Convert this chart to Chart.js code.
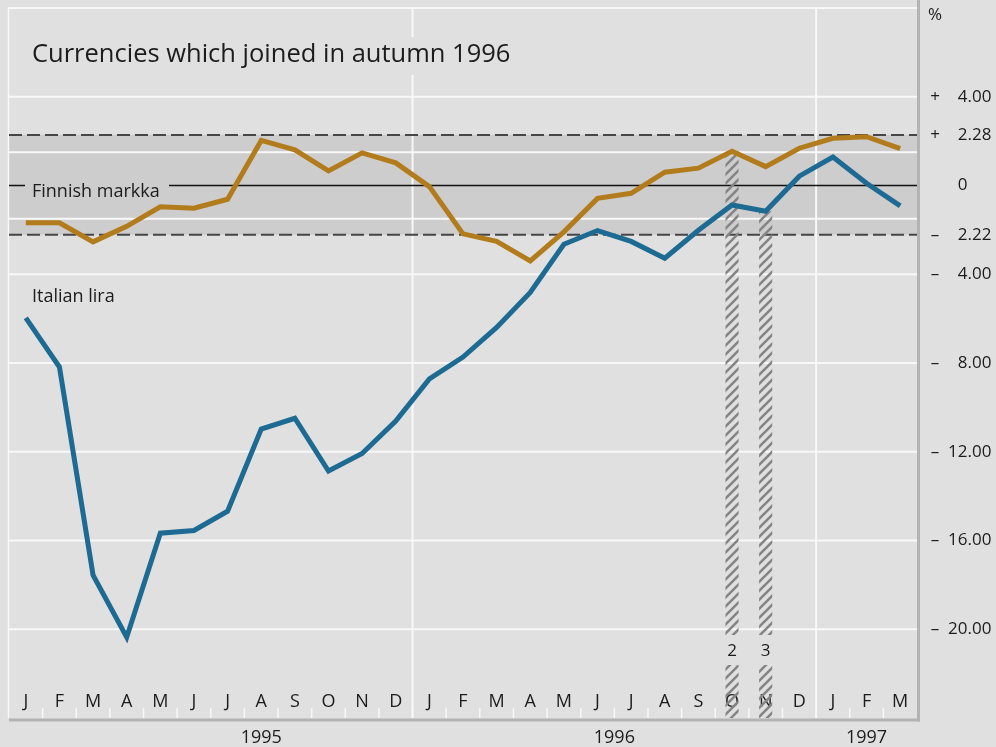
<!DOCTYPE html>
<html>
<head>
<meta charset="utf-8">
<script src="https://cdn.jsdelivr.net/npm/chart.js@4.4.1/dist/chart.umd.min.js"></script>
<style>
  html, body { margin: 0; padding: 0; background: #e0e0e0; }
  #wrap { width: 996px; height: 747px; }
</style>
</head>
<body>
<div id="wrap"><canvas id="chart" width="996" height="747"></canvas></div>
<script>
/* Currencies which joined in autumn 1996 — deviation from ERM central rate, % */

var months = ["J","F","M","A","M","J","J","A","S","O","N","D",
              "J","F","M","A","M","J","J","A","S","O","N","D",
              "J","F","M"];
var years = ["1995", "1996", "1997"];
var yearAt = [7, 17.5, 25];          // category index under which each year sits

var finnish = [-1.68, -1.68, -2.54, -1.84, -0.96, -1.02, -0.62, 2.03, 1.61, 0.66, 1.47, 1.02,
               -0.05, -2.18, -2.52, -3.40, -2.09, -0.58, -0.35, 0.60, 0.78, 1.54, 0.85, 1.68,
               2.13, 2.20, 1.66];
var lira = [-5.97, -8.18, -17.56, -20.36, -15.67, -15.55, -14.68, -10.98, -10.49, -12.87, -12.08, -10.62,
            -8.72, -7.73, -6.40, -4.82, -2.65, -2.03, -2.52, -3.28, -2.02, -0.88, -1.16, 0.42,
            1.28, 0.10, -0.92];

var tickValues = [4, 2.28, 0, -2.22, -4, -8, -12, -16, -20];
var tickLabels = ["4.00", "2.28", "0", "2.22", "4.00", "8.00", "12.00", "16.00", "20.00"];
var gridValues = [8, 4, 1.5, -1.5, -4, -8, -12, -16, -20];
var bandLimits = [2.28, -2.22];
var joinIndex = [21, 22];            // Finland joined in October, Italy in November
var joinNotes = ["2", "3"];

var Y_MIN = -24, Y_MAX = 8;
var BG = "#e0e0e0", BAND = "#cdcdcd", WHITE = "#f8f8f8", AXIS = "#b3b3b3";
var GOLD = "#b27c1c", BLUE = "#1d6a93", TEXT = "#1c1c1c";
var FONT = "'Open Sans', 'Noto Sans', sans-serif";

function hatchPattern() {
  var c = document.createElement("canvas");
  c.width = 9; c.height = 9;
  var g = c.getContext("2d");
  g.strokeStyle = "#858585";
  g.lineWidth = 2.6;
  g.beginPath();
  g.moveTo(-1, 10); g.lineTo(10, -1);
  g.moveTo(-3, 3); g.lineTo(3, -3);
  g.moveTo(6, 12); g.lineTo(12, 6);
  g.stroke();
  return g.createPattern(c, "repeat");
}

var hatchData = months.map(function(m, i) {
  if (i === joinIndex[0]) return [Y_MIN, finnish[i]];
  if (i === joinIndex[1]) return [Y_MIN, lira[i]];
  return null;
});

function hline(ctx, x1, x2, y, color, width, dash) {
  ctx.save();
  ctx.strokeStyle = color;
  ctx.lineWidth = width;
  ctx.setLineDash(dash || []);
  ctx.beginPath();
  ctx.moveTo(x1, y); ctx.lineTo(x2, y);
  ctx.stroke();
  ctx.restore();
}

function vline(ctx, x, y1, y2, color, width) {
  ctx.save();
  ctx.strokeStyle = color;
  ctx.lineWidth = width;
  ctx.beginPath();
  ctx.moveTo(x, y1); ctx.lineTo(x, y2);
  ctx.stroke();
  ctx.restore();
}

function text(ctx, s, x, y, size, align) {
  ctx.save();
  ctx.font = size + "px " + FONT;
  ctx.fillStyle = TEXT;
  ctx.textAlign = align || "left";
  ctx.textBaseline = "middle";
  ctx.fillText(s, x, y);
  ctx.restore();
}

var backdrop = {
  id: "backdrop",
  beforeDatasetsDraw: function(chart) {
    var ctx = chart.ctx, a = chart.chartArea;
    var xs = chart.scales.x, ys = chart.scales.y;
    var step = xs.getPixelForValue(1) - xs.getPixelForValue(0);

    // ERM band
    var bTop = ys.getPixelForValue(bandLimits[0]), bBot = ys.getPixelForValue(bandLimits[1]);
    ctx.fillStyle = BAND;
    ctx.fillRect(a.left, bTop, a.right - a.left, bBot - bTop);

    // white grid
    gridValues.forEach(function(v) {
      hline(ctx, a.left, a.right, ys.getPixelForValue(v), WHITE, 2);
    });
    vline(ctx, a.left - 0.5, a.top - 1, a.bottom, WHITE, 1.5);
    [12, 24].forEach(function(i) {
      vline(ctx, xs.getPixelForValue(i) - step / 2, a.top, a.bottom, WHITE, 2);
    });
    for (var i = 1; i < months.length; i++) {
      vline(ctx, xs.getPixelForValue(i) - step / 2, a.bottom - 10, a.bottom, WHITE, 1.5);
    }

    // band limits and central rate
    bandLimits.forEach(function(v) {
      hline(ctx, a.left, a.right + 3, ys.getPixelForValue(v), "#464646", 2, [13, 5]);
    });
    hline(ctx, a.left, a.right, ys.getPixelForValue(0), "#111", 1.5);

    // title
    ctx.fillStyle = BG;
    ctx.fillRect(26, 37, 492, 38);
    text(ctx, "Currencies which joined in autumn 1996", 32, 55, 25.5);

    // series labels
    var y0 = ys.getPixelForValue(0);
    ctx.fillStyle = BAND;
    ctx.fillRect(25, y0 - 3, 144, 18);
    text(ctx, "Finnish markka", 32, y0 + 6, 18);
    text(ctx, "Italian lira", 32, ys.getPixelForValue(lira[0]) - 21, 18);

    // month letters
    months.forEach(function(m, i) {
      text(ctx, m, xs.getPixelForValue(i), a.bottom - 16, 18, "center");
    });
  },
  afterDatasetsDraw: function(chart) {
    var ctx = chart.ctx, a = chart.chartArea;
    var xs = chart.scales.x, ys = chart.scales.y;
    var step = xs.getPixelForValue(1) - xs.getPixelForValue(0);
    var meta = chart.getDatasetMeta(0);

    // footnote marks cut into the hatched columns
    joinIndex.forEach(function(idx, k) {
      var bar = meta.data[idx];
      ctx.fillStyle = BG;
      ctx.fillRect(bar.x - bar.width / 2 - 1, a.bottom - 83, bar.width + 2, 30);
      text(ctx, joinNotes[k], bar.x, a.bottom - 67, 17, "center");
    });

    // axis frame
    hline(ctx, a.left, a.right + 3, a.bottom + 2, AXIS, 3);
    vline(ctx, a.right + 1.5, 0, a.bottom + 3.5, AXIS, 3);

    // years
    years.forEach(function(y, k) {
      text(ctx, y, xs.getPixelForValue(0) + yearAt[k] * step, a.bottom + 20, 18, "center");
    });

    // right-hand scale
    text(ctx, "%", 935, 15, 17, "center");
    tickValues.forEach(function(v, k) {
      var py = ys.getPixelForValue(v);
      if (v > 0) text(ctx, "+", 935, py, 17, "center");
      if (v < 0) text(ctx, "\u2013", 935, py, 17, "center");
      var parts = tickLabels[k].split(".");
      text(ctx, parts[0], 967.5, py, 17, "right");
      if (parts[1]) text(ctx, "." + parts[1], 967.5, py, 17, "left");
    });
  }
};

function draw() {
  new Chart(document.getElementById("chart"), {
    type: "line",
    data: {
      labels: months,
      datasets: [
        {
          type: "bar",
          data: hatchData,
          backgroundColor: hatchPattern(),
          borderWidth: 0,
          barPercentage: 0.39,
          categoryPercentage: 1,
          order: 3
        },
        {
          label: "Finnish markka",
          data: finnish,
          borderColor: GOLD,
          borderWidth: 5,
          borderJoinStyle: "miter",
          pointRadius: 0,
          tension: 0,
          fill: false,
          order: 1
        },
        {
          label: "Italian lira",
          data: lira,
          borderColor: BLUE,
          borderWidth: 5,
          borderJoinStyle: "miter",
          pointRadius: 0,
          tension: 0,
          fill: false,
          order: 2
        }
      ]
    },
    options: {
      responsive: false,
      animation: false,
      events: [],
      layout: { padding: { left: 9, right: 79, top: 8, bottom: 29 } },
      plugins: { legend: { display: false }, tooltip: { enabled: false } },
      scales: {
        x: { display: false, offset: true },
        y: { display: false, min: Y_MIN, max: Y_MAX }
      }
    },
    plugins: [backdrop]
  });
}

if (document.fonts && document.fonts.load) {
  document.fonts.load("18px 'Open Sans'").then(draw, draw);
} else {
  draw();
}
</script>
</body>
</html>
